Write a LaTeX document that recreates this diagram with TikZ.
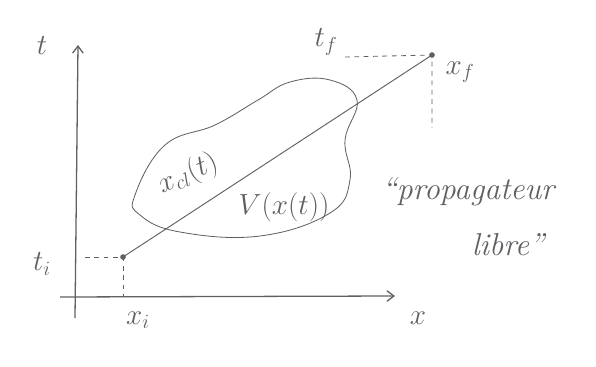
\documentclass[tikz,border=0pt]{standalone}
\usepackage{amsmath}
\usepackage{tikz}
\usetikzlibrary{arrows.meta,calc}

\definecolor{pencil}{RGB}{95,95,100}
\tikzset{
  axis/.style={line width=1.1pt, pencil, -{Straight Barb[length=6pt,width=9pt]}},
  guide/.style={pencil, dash pattern=on 4pt off 4pt, line width=0.7pt},
  lbl/.style={pencil, font=\fontsize{24}{28}\selectfont},
  note/.style={pencil, font=\itshape\fontsize{27}{30}\selectfont}
}

\begin{document}
\begin{tikzpicture}[x=0.03cm, y=-0.03cm, >=Stealth]
\useasboundingbox (0,0) rectangle (596,366);

% axes
\draw[axis] (75,318) coordinate(O1) -- (78,45) coordinate(T);
\draw[axis] (60,297) coordinate(O2) -- (395,296) coordinate(X);
\node[lbl] (tlab) at (42,46) {$t$};
\node[lbl] (xlab) at (418,318) {$x$};

% end points of the path
\coordinate (A) at (123,257);
\coordinate (B) at (432,55);
\fill[pencil] (A) circle (2.4pt);
\fill[pencil] (B) circle (2.4pt);

% projections on the axes
\coordinate (Ai) at (85,257);
\coordinate (Ax) at (123,297);
\coordinate (Bt) at (345,57);
\coordinate (Bx) at (432,128);
\draw[guide] (Ai) -- (A) -- (Ax);
\draw[guide] (Bt) -- (B) -- (Bx);

\node[lbl] (ti) at (42,264) {$t_i$};
\node[lbl] (xi) at (138,320) {$x_i$};
\node[lbl] (tf) at (326,42) {$t_f$};
\node[lbl] (xf) at (460,72) {$x_f$};

% classical path
\draw[pencil, line width=0.8pt] (A) -- (B);

% potential region
\draw[pencil, line width=0.7pt] plot[smooth cycle, tension=0.7] coordinates {
  (135,195) (165,145) (215,125) (258,100) (290,82) (330,80)
  (357,100) (345,140) (350,180) (330,213) (260,236) (180,232) (140,215)};

\node[lbl, rotate=24, inner sep=1pt] (xcl) at (188,174) {$x_{cl}(t)$};
\node[lbl] (pot) at (284,207) {$V(x(t))$};

% free propagator
\node[note] (prop) at (468,192) {``propagateur};
\node[note] (libre) at (508,245) {libre''};
\end{tikzpicture}
\end{document}
